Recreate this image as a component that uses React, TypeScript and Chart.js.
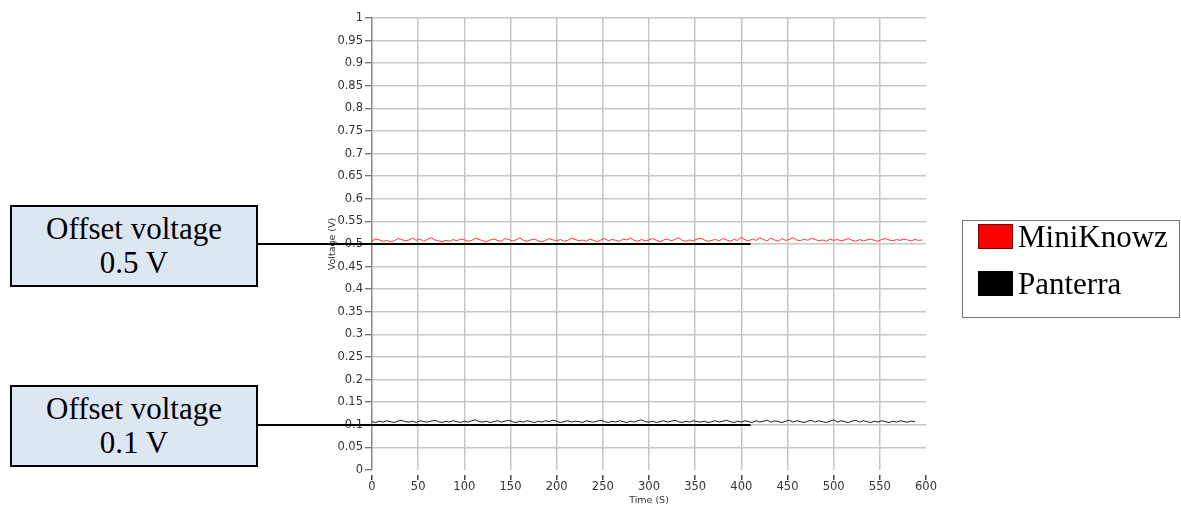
import React, { useEffect, useRef } from "react";
import { Chart, registerables } from "chart.js";

Chart.register(...registerables);

// ---- data ----
const seriesNames = ["MiniKnowz", "Panterra"];
const seriesColors = ["#ff3333", "#1a1a1a"];
const sampleStep = 4; // seconds between samples

const miniKnowzVoltage = [
  0.507, 0.511, 0.509, 0.506, 0.508, 0.505, 0.507, 0.512, 0.510, 0.507,
  0.509, 0.513, 0.508, 0.511, 0.506, 0.510, 0.514, 0.509, 0.507, 0.505,
  0.508, 0.506, 0.510, 0.507, 0.511, 0.509, 0.506, 0.508, 0.513, 0.510,
  0.507, 0.505, 0.509, 0.511, 0.508, 0.506, 0.512, 0.510, 0.507, 0.509,
  0.514, 0.508, 0.506, 0.509, 0.511, 0.507, 0.505, 0.508, 0.512, 0.509,
  0.507, 0.510, 0.506, 0.508, 0.513, 0.510, 0.507, 0.509, 0.506, 0.511,
  0.508, 0.505, 0.509, 0.512, 0.507, 0.510, 0.508, 0.506, 0.511, 0.509,
  0.513, 0.508, 0.506, 0.510, 0.507, 0.509, 0.512, 0.508, 0.505, 0.509,
  0.511, 0.507, 0.510, 0.514, 0.508, 0.506, 0.509, 0.507, 0.511, 0.513,
  0.509, 0.506, 0.508, 0.510, 0.507, 0.512, 0.509, 0.506, 0.510, 0.508,
  0.515, 0.509, 0.507, 0.511, 0.508, 0.514, 0.510, 0.507, 0.513, 0.509,
  0.506, 0.512, 0.508, 0.510, 0.514, 0.509, 0.507, 0.511, 0.508, 0.513,
  0.510, 0.507, 0.509, 0.506, 0.511, 0.508, 0.510, 0.507, 0.509, 0.512,
  0.508, 0.506, 0.510, 0.507, 0.509, 0.511, 0.508, 0.506, 0.510, 0.512,
  0.509, 0.507, 0.510, 0.508, 0.511, 0.509, 0.507, 0.510, 0.508, 0.509,
];

const panterraVoltage = [
  0.107, 0.105, 0.108, 0.106, 0.109, 0.107, 0.105, 0.108, 0.110, 0.107,
  0.106, 0.108, 0.105, 0.109, 0.107, 0.106, 0.108, 0.110, 0.107, 0.105,
  0.108, 0.106, 0.109, 0.107, 0.105, 0.108, 0.106, 0.109, 0.111, 0.107,
  0.106, 0.108, 0.105, 0.107, 0.109, 0.106, 0.108, 0.110, 0.107, 0.105,
  0.108, 0.106, 0.109, 0.107, 0.105, 0.108, 0.106, 0.109, 0.107, 0.110,
  0.108, 0.105, 0.107, 0.109, 0.106, 0.108, 0.107, 0.105, 0.109, 0.107,
  0.106, 0.108, 0.110, 0.107, 0.105, 0.108, 0.106, 0.109, 0.107, 0.105,
  0.108, 0.106, 0.109, 0.111, 0.107, 0.106, 0.108, 0.105, 0.107, 0.109,
  0.106, 0.108, 0.110, 0.107, 0.105, 0.108, 0.106, 0.109, 0.107, 0.106,
  0.108, 0.105, 0.107, 0.109, 0.106, 0.108, 0.110, 0.107, 0.105, 0.108,
  0.106, 0.109, 0.107, 0.105, 0.109, 0.106, 0.108, 0.110, 0.106, 0.109,
  0.107, 0.105, 0.108, 0.110, 0.106, 0.109, 0.107, 0.105, 0.108, 0.110,
  0.106, 0.109, 0.107, 0.105, 0.108, 0.111, 0.106, 0.109, 0.107, 0.105,
  0.108, 0.110, 0.106, 0.109, 0.107, 0.105, 0.108, 0.106, 0.109, 0.107,
  0.105, 0.108, 0.106, 0.109, 0.107, 0.106, 0.108, 0.107,
];

const offsetVoltages = [0.5, 0.1];
const offsetLabels = ["0.5 V", "0.1 V"];
const leaderEndTime = 410;

const xMin = 0;
const xMax = 600;
const xStep = 50;
const yMin = 0;
const yMax = 1;
const yStep = 0.05;

// ---- layout ----
const W = 1181;
const H = 508;
const boxLeft = 10;
const boxWidth = 248;
const boxHeight = 82;
const boxTops = [205, 385];

const toPoints = (vals: number[]) =>
  vals.map((v, i) => ({ x: i * sampleStep, y: v }));

const leaderPlugin = {
  id: "leaders",
  afterDatasetsDraw(chart: any) {
    const { ctx, scales } = chart;
    const xs = scales.x;
    const ys = scales.y;
    ctx.save();
    ctx.strokeStyle = "#000";
    ctx.lineWidth = 2;
    offsetVoltages.forEach((v) => {
      const py = Math.round(ys.getPixelForValue(v));
      ctx.beginPath();
      ctx.moveTo(boxLeft + boxWidth, py);
      ctx.lineTo(xs.getPixelForValue(leaderEndTime), py);
      ctx.stroke();
    });
    ctx.restore();
  },
};

export default function App() {
  const ref = useRef<HTMLCanvasElement | null>(null);

  useEffect(() => {
    if (!ref.current) return;
    const chart = new Chart(ref.current, {
      type: "line",
      data: {
        datasets: [
          {
            label: seriesNames[0],
            data: toPoints(miniKnowzVoltage),
            borderColor: seriesColors[0],
            borderWidth: 1,
            pointRadius: 0,
            tension: 0,
          },
          {
            label: seriesNames[1],
            data: toPoints(panterraVoltage),
            borderColor: seriesColors[1],
            borderWidth: 1,
            pointRadius: 0,
            tension: 0,
          },
        ],
      },
      plugins: [leaderPlugin],
      options: {
        responsive: false,
        animation: false,
        layout: { padding: { left: 324, right: 255, top: 18, bottom: 0 } },
        plugins: {
          legend: { display: false },
          tooltip: { enabled: false },
        },
        scales: {
          x: {
            type: "linear",
            min: xMin,
            max: xMax,
            afterFit: (s: any) => {
              s.height = 38;
            },
            ticks: {
              stepSize: xStep,
              color: "#333",
              font: { family: "DejaVu Sans", size: 11.5 },
              padding: 0,
              maxRotation: 0,
            },
            grid: {
              color: (c: any) =>
                c.tick && (c.tick.value === xMin || c.tick.value === xMax)
                  ? "rgba(0,0,0,0)"
                  : "#c6c6c6",
              lineWidth: 1.5,
              tickLength: 10,
              tickColor: "#444",
              tickWidth: 1.5,
              tickBorderDash: [5, 5],
              tickBorderDashOffset: 5,
            },
            border: { display: false },
            title: {
              display: true,
              text: "Time (S)",
              color: "#333",
              font: { family: "DejaVu Sans", size: 9.5 },
              padding: { top: 0, bottom: 2 },
            },
          },
          y: {
            type: "linear",
            min: yMin,
            max: yMax,
            afterFit: (s: any) => {
              s.width = 48;
            },
            ticks: {
              stepSize: yStep,
              color: "#333",
              font: { family: "DejaVu Sans", size: 11.5 },
              padding: 2,
              callback: (v: any) => String(Number(Number(v).toFixed(2))),
            },
            grid: {
              color: (c: any) =>
                c.tick && c.tick.value === yMin ? "rgba(0,0,0,0)" : "#c6c6c6",
              lineWidth: 1.5,
              tickLength: 7,
              tickColor: "#444",
              tickWidth: 1,
            },
            border: { display: true, color: "#888", width: 1.5 },
            title: {
              display: true,
              text: "Voltage (V)",
              color: "#333",
              font: { family: "DejaVu Sans", size: 9.5 },
              padding: { top: 3, bottom: 0 },
            },
          },
        },
      },
    });
    return () => chart.destroy();
  }, []);

  const serif = '"Liberation Serif", "Times New Roman", serif';

  return (
    <div style={{ position: "absolute", left: 0, top: 0, width: W, height: H, background: "#fff" }}>
      <canvas ref={ref} width={W} height={H} style={{ position: "absolute", left: 0, top: 0 }} />
      {offsetLabels.map((lab, i) => (
        <div
          key={lab}
          style={{
            position: "absolute",
            left: boxLeft,
            top: boxTops[i],
            width: boxWidth,
            height: boxHeight,
            boxSizing: "border-box",
            border: "2.5px solid #000",
            background: "#dde7f4",
            fontFamily: serif,
            fontSize: 31,
            lineHeight: "34px",
            textAlign: "center",
            paddingTop: 5,
            color: "#000",
          }}
        >
          <div>Offset voltage</div>
          <div>{lab}</div>
        </div>
      ))}
      <div
        style={{
          position: "absolute",
          left: 962,
          top: 220,
          width: 218,
          height: 98,
          boxSizing: "border-box",
          border: "1px solid #777",
          background: "#fff",
          fontFamily: serif,
          fontSize: 31,
          color: "#000",
        }}
      >
        {seriesNames.map((n, i) => (
          <div
            key={n}
            style={{
              position: "absolute",
              left: 15,
              top: 2 + i * 47,
              display: "flex",
              alignItems: "center",
              height: 27,
              whiteSpace: "nowrap",
            }}
          >
            <span
              style={{
                display: "inline-block",
                width: 35,
                height: 25,
                boxSizing: "border-box",
                background: i === 0 ? "#ff0000" : "#000",
                border: i === 0 ? "1px solid #700" : "1px solid #000",
                marginRight: 5,
              }}
            />
            <span style={{ lineHeight: "27px" }}>{n}</span>
          </div>
        ))}
      </div>
    </div>
  );
}
